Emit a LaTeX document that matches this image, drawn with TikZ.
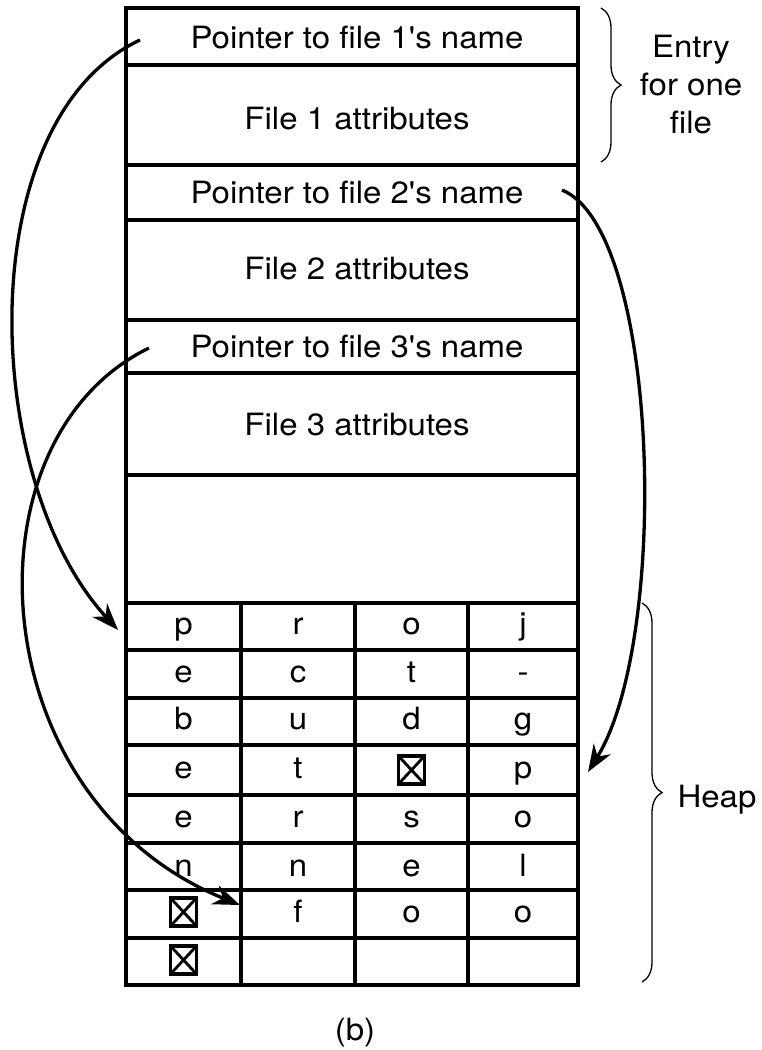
\documentclass[tikz,border=0pt]{standalone}
\usepackage{fontspec}
\setmainfont[FakeStretch=1.075, Ligatures=TeXOff]{TeX Gyre Heros}
\usetikzlibrary{arrows.meta,decorations.pathreplacing}
\begin{document}
\begin{tikzpicture}[x=1pt,y=-1pt,
  grid/.style={line width=3.3pt},
  lbl/.style={font=\fontsize{30.7}{38}\selectfont, inner sep=0pt, anchor=base},
  ptr/.style={line width=3.3pt, -{Stealth[length=27pt,width=20pt]}},
  brc/.style={decorate, decoration={brace, amplitude=20pt}, line width=1.3pt},
  xbox/.style={draw, line width=3.3pt, minimum width=26pt, minimum height=28pt, inner sep=0pt,
    path picture={\draw[line width=2.8pt] (path picture bounding box.north west) -- (path picture bounding box.south east)
      (path picture bounding box.north east) -- (path picture bounding box.south west);}}]
\useasboundingbox (0,0) rectangle (762,1050);
% frame
\draw[grid] (126,8) rectangle (578,985);
\foreach \y in {65,165,220,320,373,475,603,650,698,745,795,843,890,938}
  \draw[grid] (126,\y) -- (578,\y);
\foreach \x in {241,355,468}
  \draw[grid] (\x,603) -- (\x,985);
% directory entries
\node[lbl] (p1) at (357,48) {Pointer to file 1's name};
\node[lbl] (a1) at (357,129) {File 1 attributes};
\node[lbl] (p2) at (357,203) {Pointer to file 2's name};
\node[lbl] (a2) at (357,279) {File 2 attributes};
\node[lbl] (p3) at (357,357) {Pointer to file 3's name};
\node[lbl] (a3) at (357,435) {File 3 attributes};
% heap letters
\foreach \txt/\x/\y/\n in {
  p/183.5/634.5/a1, r/298/634.5/a2, o/411.5/634.5/a3, j/523/634.5/a4,
  e/183.5/682/b1, c/298/682/b2, t/411.5/682/b3, -/523/682/b4,
  b/183.5/729.5/c1, u/298/729.5/c2, d/411.5/729.5/c3, g/523/729.5/c4,
  e/183.5/778/d1, t/298/778/d2, p/523/778/d4,
  e/183.5/827/e1, r/298/827/e2, s/411.5/827/e3, o/523/827/e4,
  n/183.5/876/f1, n/298/876/f2, e/411.5/876/f3, l/523/876/f4,
  f/298/922/g2, o/411.5/922/g3, o/523/922/g4}
  \node[lbl] (h\n) at (\x,\y) {\txt};
\node[xbox] (hd3) at (411.5,770) {};
\node[xbox] (hg1) at (183.5,912) {};
\node[xbox] (hh1) at (183.5,960) {};
% braces
\draw[brc] (601,8) -- (601,162);
\node[lbl] (e1) at (691,57) {Entry};
\node[lbl] (e2) at (691,95) {for one};
\node[lbl] (e3) at (691,133) {file};
\draw[brc] (642,603) -- (642,982);
\node[lbl] (heap) at (717,807) {Heap};
\node[lbl] (cap) at (355,1040) {(b)};
% pointers
\coordinate (s1) at (140,40);
\coordinate (t1) at (118,630);
\coordinate (s2) at (562,190);
\coordinate (t2) at (588,772);
\coordinate (s3) at (149,348);
\coordinate (t3) at (240,905);
\draw[ptr] (s1) .. controls (-30,120) and (-20,480) .. (t1);
\draw[ptr] (s2) .. controls (660,230) and (670,640) .. (t2);
\draw[ptr] (s3) .. controls (-40,440) and (-20,800) .. (t3);
\end{tikzpicture}
\end{document}
